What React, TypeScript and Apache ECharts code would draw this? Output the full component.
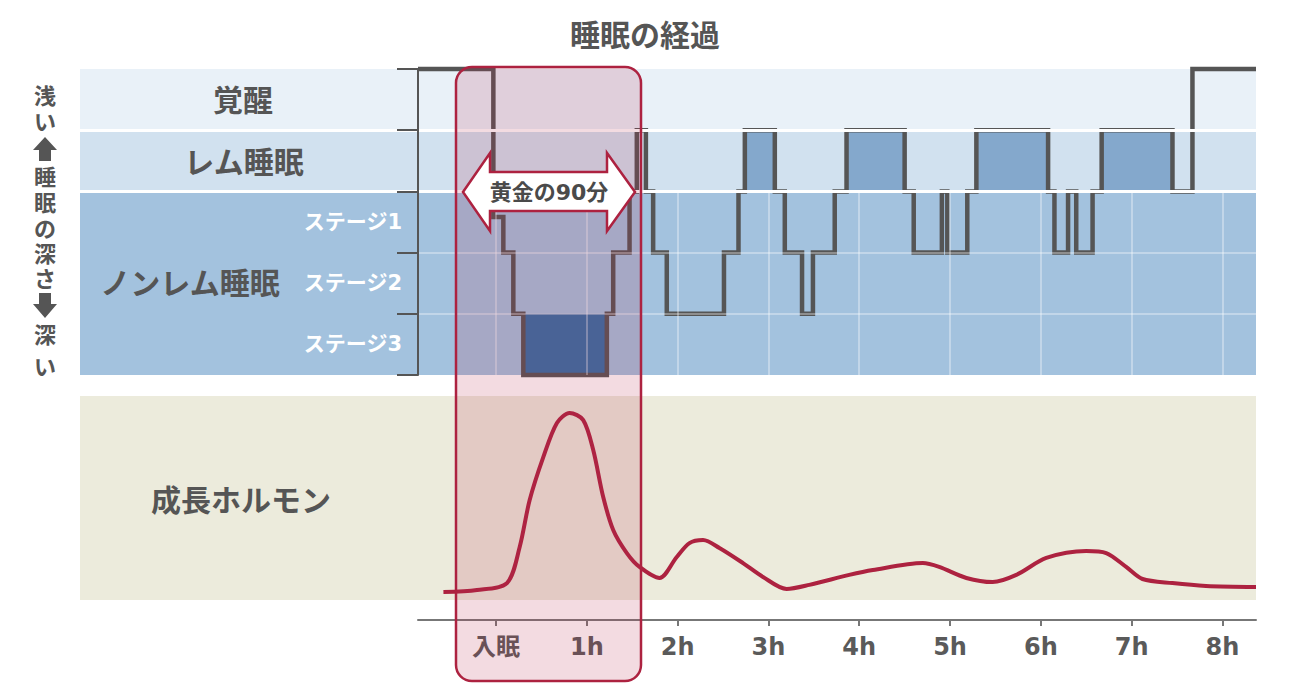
import React, { useEffect, useRef } from "react";
import * as echarts from "echarts";

// ---- data ----
const X_MIN = -0.86;
const X_MAX = 8.37;
const hourTicks = [0, 1, 2, 3, 4, 5, 6, 7, 8];

// hypnogram: time (h) at which each level starts; level 0 = 覚醒, 1 = レム, 2..5 = ノンレム depth
const stageTimes = [-0.86, -0.03, 0.08, 0.19, 0.3, 1.22, 1.29, 1.47, 1.55, 1.65, 1.73, 1.88, 2.51, 2.67, 2.74, 3.07, 3.18, 3.37, 3.49, 3.73, 3.86, 4.5, 4.6, 4.91, 4.97, 5.19, 5.29, 6.08, 6.15, 6.3, 6.39, 6.57, 6.67, 7.45, 7.67, 8.37];
const stageLevels = [0, 2.42, 3, 4, 5, 4, 3, 2, 1, 2, 3, 4, 3, 2, 1, 2, 3, 4, 3, 2, 1, 2, 3, 2, 3, 2, 1, 2, 3, 2, 3, 2, 1, 2, 0, 0];

// growth hormone curve (relative level 0..100)
const ghTimes = [-0.58, -0.21, 0.12, 0.26, 0.37, 0.52, 0.67, 0.81, 0.96, 1.07, 1.18, 1.29, 1.44, 1.58, 1.8, 1.99, 2.13, 2.28, 2.46, 2.72, 2.94, 3.2, 3.45, 3.89, 4.15, 4.7, 4.88, 5.18, 5.47, 5.73, 6.06, 6.5, 6.72, 6.94, 7.12, 7.45, 7.82, 8.37];
const ghValues = [3.9, 4.9, 8.3, 26, 49, 70, 86.8, 91.7, 88.2, 73.5, 50.5, 34.3, 23, 16.2, 10.8, 21.1, 27.9, 29.4, 25.5, 18.1, 11.3, 5.4, 7.4, 12.3, 14.7, 18.1, 16.2, 10.8, 8.8, 12.3, 20.6, 24, 23, 16.2, 10.3, 8.3, 6.9, 6.4];

// background bands (level ranges)
const bandRanges = [[0, 1], [1, 2], [2, 5]];
const bandColors = ["#e9f1f8", "#d1e1ef", "#a3c2de"];
const stageLabels = ["ステージ1", "ステージ2", "ステージ3"];

const FONT = '"DejaVu Sans", "Noto Sans CJK JP", sans-serif';
const TEXT = "#555555";
const RED = "#ad2240";

export default function App() {
  const ref = useRef<HTMLDivElement>(null);

  useEffect(() => {
    if (!ref.current) return;
    const chart = echarts.init(ref.current, undefined, { renderer: "svg" });

    const hypno = stageTimes.map((t, i) => [t, stageLevels[i]]);
    const gh = ghTimes.map((t, i) => [t, ghValues[i]]);

    const fills: any[] = [];
    for (let i = 0; i < stageTimes.length - 1; i++) {
      const a = stageTimes[i];
      const b = stageTimes[i + 1];
      if (stageLevels[i] === 1 && b - a > 0.15) {
        fills.push([{ xAxis: a, yAxis: 1, itemStyle: { color: "#84a8cc" } }, { xAxis: b, yAxis: 2 }]);
      }
      if (stageLevels[i] === 5) {
        fills.push([{ xAxis: a, yAxis: 4, itemStyle: { color: "#336fa5" } }, { xAxis: b, yAxis: 5 }]);
      }
    }

    const gridLines: any[] = [{ yAxis: 3 }, { yAxis: 4 }];
    hourTicks.forEach((h) => gridLines.push([{ coord: [h, 2] }, { coord: [h, 5] }]));

    const vertChars = [
      ["浅", 96], ["い", 122], ["睡", 177], ["眠", 203], ["の", 229], ["深", 254], ["さ", 279], ["深", 335], ["い", 367],
    ];

    const option: any = {
      animation: false,
      grid: [
        { left: 80, right: 34, top: 69, height: 306 },
        { left: 418, right: 34, top: 69, height: 306 },
        { left: 418, right: 34, top: 396, height: 204 },
      ],
      xAxis: [
        { gridIndex: 0, type: "value", min: 0, max: 1, show: false },
        { gridIndex: 1, type: "value", min: X_MIN, max: X_MAX, show: false },
        {
          gridIndex: 2, type: "value", min: X_MIN, max: X_MAX, offset: 20,
          axisLine: { show: true, onZero: false, lineStyle: { color: "#777", width: 2 } },
          axisTick: { show: true, customValues: hourTicks, length: 6, lineStyle: { color: "#777", width: 2 } },
          axisLabel: {
            customValues: hourTicks, margin: 15,
            formatter: (v: number) => (v === 0 ? "入眠" : `${v}h`),
            color: "#5a5a5a", fontSize: 24, fontWeight: "bold", fontFamily: FONT,
          },
          splitLine: { show: false },
        },
      ],
      yAxis: [
        { gridIndex: 0, type: "value", min: 0, max: 5, inverse: true, show: false },
        {
          gridIndex: 1, type: "value", min: 0, max: 5, interval: 1, inverse: true, position: "left", z: 6,
          axisLine: { show: true, onZero: false, lineStyle: { color: "#555", width: 2 } },
          axisTick: { show: true, length: 21, lineStyle: { color: "#555", width: 2 } },
          axisLabel: { show: false },
          splitLine: { show: false },
        },
        { gridIndex: 2, type: "value", min: 0, max: 100, show: false },
      ],
      series: [
        {
          type: "line", xAxisIndex: 0, yAxisIndex: 0, z: 1, silent: true,
          data: [[0, 0]], symbol: "none", lineStyle: { opacity: 0 },
          markArea: {
            silent: true,
            data: bandRanges.map((r, i) => [
              { xAxis: 0, yAxis: r[0], itemStyle: { color: bandColors[i] } },
              { xAxis: 1, yAxis: r[1] },
            ]),
          },
          markLine: {
            silent: true, symbol: ["none", "none"], label: { show: false },
            lineStyle: { color: "#ffffff", width: 3, type: "solid" },
            data: [{ yAxis: 1 }, { yAxis: 2 }],
          },
        },
        {
          type: "line", xAxisIndex: 1, yAxisIndex: 1, z: 2, silent: true,
          data: [[X_MIN, 0]], symbol: "none", lineStyle: { opacity: 0 },
          markArea: { silent: true, data: fills },
        },
        {
          type: "line", xAxisIndex: 1, yAxisIndex: 1, z: 3, silent: true,
          data: [[X_MIN, 0]], symbol: "none", lineStyle: { opacity: 0 },
          markLine: {
            silent: true, symbol: ["none", "none"], label: { show: false },
            lineStyle: { color: "rgba(255,255,255,0.45)", width: 1.5, type: "solid" },
            data: gridLines,
          },
        },
        {
          name: "睡眠段階", type: "line", xAxisIndex: 1, yAxisIndex: 1, z: 4,
          data: hypno, step: "end", symbol: "none", clip: false,
          lineStyle: { color: "#555555", width: 4.5, join: "miter" },
        },
        {
          name: "成長ホルモン", type: "line", xAxisIndex: 2, yAxisIndex: 2, z: 4,
          data: gh, smooth: 0.3, symbol: "none", clip: false,
          lineStyle: { color: RED, width: 4 },
        },
      ],
      graphic: [
        { type: "rect", z: 0, shape: { x: 80, y: 396, width: 1176, height: 204 }, style: { fill: "#ecebdc" } },
        { type: "text", z: 20, x: 645, y: 35, style: { text: "睡眠の経過", fontSize: 30, fontWeight: "bold", fontFamily: FONT, fill: TEXT, align: "center", verticalAlign: "middle" } },
        { type: "text", z: 20, x: 243, y: 100, style: { text: "覚醒", fontSize: 30, fontWeight: "bold", fontFamily: FONT, fill: TEXT, align: "center", verticalAlign: "middle" } },
        { type: "text", z: 20, x: 244, y: 162, style: { text: "レム睡眠", fontSize: 30, fontWeight: "bold", fontFamily: FONT, fill: TEXT, align: "center", verticalAlign: "middle" } },
        { type: "text", z: 20, x: 190, y: 283, style: { text: "ノンレム睡眠", fontSize: 30, fontWeight: "bold", fontFamily: FONT, fill: TEXT, align: "center", verticalAlign: "middle" } },
        ...stageLabels.map((s, i) => ({
          type: "text", z: 20, x: 402, y: 222 + i * 61.2,
          style: { text: s, fontSize: 21, fontWeight: "bold", fontFamily: FONT, fill: "#ffffff", align: "right", verticalAlign: "middle" },
        })),
        { type: "text", z: 20, x: 241, y: 500, style: { text: "成長ホルモン", fontSize: 30, fontWeight: "bold", fontFamily: FONT, fill: TEXT, align: "center", verticalAlign: "middle" } },
        ...vertChars.map(([c, y]) => ({
          type: "text", z: 20, x: 45, y: y as number,
          style: { text: c as string, fontSize: 22, lineHeight: 22, fontWeight: "bold", fontFamily: FONT, fill: TEXT, align: "center", verticalAlign: "middle" },
        })),
        { type: "polygon", z: 20, shape: { points: [[45, 137], [57, 150], [51, 150], [51, 161], [39, 161], [39, 150], [33, 150]] }, style: { fill: TEXT } },
        { type: "polygon", z: 20, shape: { points: [[39, 293], [51, 293], [51, 304], [57, 304], [45, 318], [33, 304], [39, 304]] }, style: { fill: TEXT } },
        // golden 90 minutes highlight
        { type: "rect", z: 10, shape: { x: 456, y: 67, width: 185, height: 614, r: 16 }, style: { fill: "rgba(185,40,75,0.17)", stroke: RED, lineWidth: 2.5 } },
        {
          type: "polygon", z: 11,
          shape: { points: [[463, 192], [490, 153], [490, 172], [607, 172], [607, 153], [635, 192], [607, 231], [607, 211], [490, 211], [490, 231]] },
          style: { fill: "#ffffff", stroke: RED, lineWidth: 2.5 },
        },
        { type: "text", z: 12, x: 549, y: 192, style: { text: "黄金の90分", fontSize: 22, fontWeight: "bold", fontFamily: FONT, fill: "#4a4a4a", align: "center", verticalAlign: "middle" } },
      ],
    };

    chart.setOption(option);
    return () => chart.dispose();
  }, []);

  return <div ref={ref} style={{ position: "fixed", left: 0, top: 0, width: 1290, height: 687, background: "#fff" }} />;
}
